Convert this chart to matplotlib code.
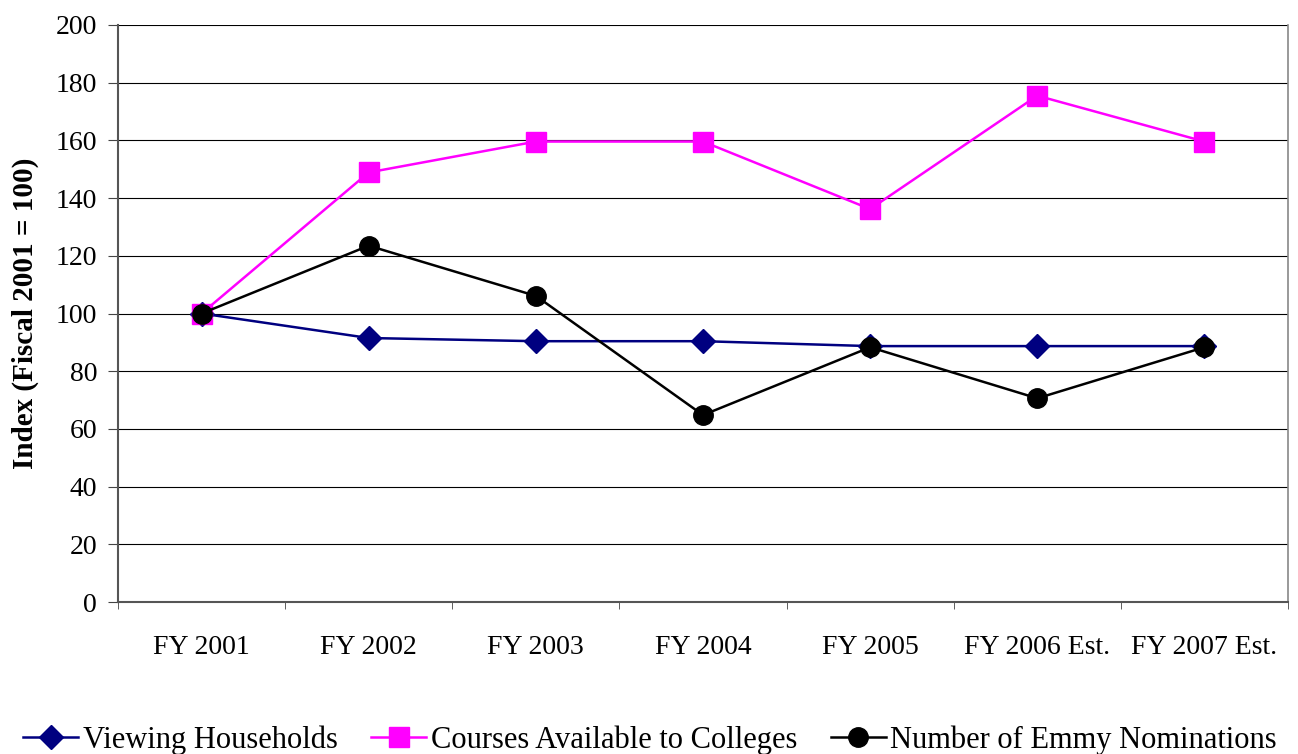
import matplotlib
matplotlib.use("Agg")
import matplotlib.pyplot as plt
import numpy as np

categories = ["FY 2001", "FY 2002", "FY 2003", "FY 2004", "FY 2005", "FY 2006 Est.", "FY 2007 Est."]
viewing = [100, 91.5, 90.4, 90.4, 88.7, 88.7, 88.7]
courses = [100, 148.9, 159.6, 159.6, 136.2, 175.5, 159.6]
emmy = [100, 123.5, 106.1, 64.8, 88.3, 70.6, 88.3]
yticks = list(range(0, 201, 20))

plt.rcParams['font.family'] = ['Liberation Serif', 'DejaVu Serif']

fig = plt.figure(figsize=(12.98, 7.54), dpi=100)
ax = fig.add_axes([118/1298, 1-602/754, (1288-118)/1298, (602-25)/754])

x = np.arange(len(categories))
ax.plot(x, viewing, color='#000080', lw=1.8, marker='D', ms=12, label='Viewing Households', zorder=3)
ax.plot(x, courses, color='#FF00FF', lw=1.8, marker='s', ms=14, label='Courses Available to Colleges', zorder=4)
ax.plot(x, emmy, color='black', lw=1.8, marker='o', ms=14, label='Number of Emmy Nominations', zorder=5)

ax.set_xlim(-0.5, len(categories)-0.5)
ax.set_ylim(0, 200)
ax.set_yticks(yticks)
ax.set_yticklabels([str(v) for v in yticks], fontsize=20)
ax.yaxis.grid(True, color='black', lw=0.8)
ax.set_axisbelow(True)

ax.set_xticks(x)
ax.set_xticklabels(categories, fontsize=20)
ax.set_xticks(np.arange(-0.5, len(categories)), minor=True)
ax.tick_params(axis='x', which='major', length=0, pad=24)
ax.tick_params(axis='x', which='minor', length=5, color='#444444', direction='out')
ax.tick_params(axis='y', length=7, color='#444444', direction='out', pad=8)

for s in ['left', 'bottom']:
    ax.spines[s].set_color('#555555')
    ax.spines[s].set_linewidth(1.5)
ax.spines['right'].set_color('#888888')
ax.spines['right'].set_linewidth(1.2)
ax.spines['top'].set_visible(False)

ax.set_ylabel('Index (Fiscal 2001 = 100)', fontsize=21, fontweight='bold', labelpad=12)

leg = fig.legend(loc='center', bbox_to_anchor=(650/1298, 1-740/754), ncol=3, frameon=False,
                 fontsize=22, handlelength=1.8, handletextpad=0.15, columnspacing=1.1,
                 markerscale=1.0)

fig.savefig('out.png', dpi=100)
